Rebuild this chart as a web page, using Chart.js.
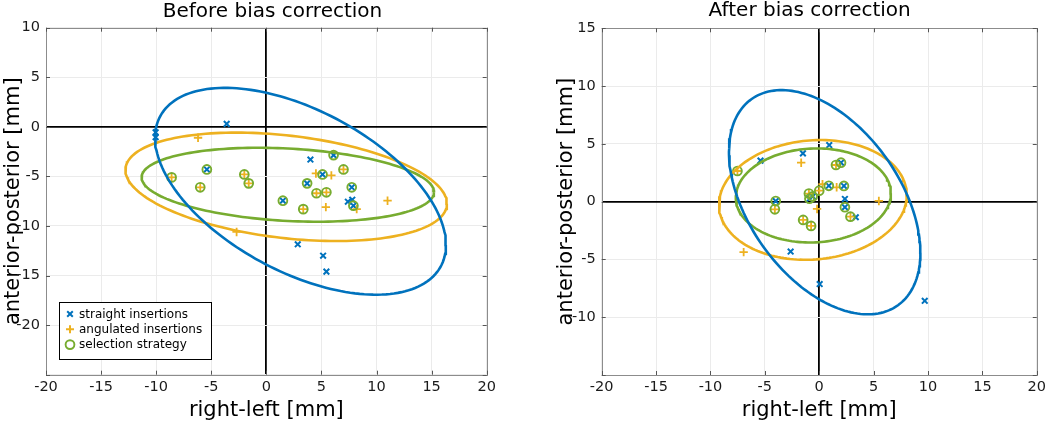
<!DOCTYPE html>
<html>
<head>
<meta charset="utf-8">
<script src="https://cdn.jsdelivr.net/npm/chart.js@4/dist/chart.umd.min.js"></script>
<style>
  html, body { margin: 0; padding: 0; background: #fff; }
  #wrap { position: relative; width: 1050px; height: 423px; overflow: hidden; }
  canvas { position: absolute; top: 0; }
</style>
</head>
<body>
<div id="wrap">
  <canvas id="left" width="525" height="423" style="left:0px"></canvas>
  <canvas id="right" width="525" height="423" style="left:525px"></canvas>
</div>
<script>
// ---------------- data ----------------
const xTickLabels = [-20, -15, -10, -5, 0, 5, 10, 15, 20];
const beforeYTickLabels = [10, 5, 0, -5, -10, -15, -20];
const afterYTickLabels = [15, 10, 5, 0, -5, -10];

const titles = ["Before bias correction", "After bias correction"];
const xAxisTitle = "right-left [mm]";
const yAxisTitle = "anterior-posterior [mm]";
const seriesNames = ["straight insertions", "angulated insertions", "selection strategy"];

// Before bias correction
const beforeStraightX = [-3.6, -10.05, -10.05, 4.0, 6.1, 5.1, 3.7, 7.75, 1.5, 7.4, 7.8, 7.9, -5.4, 2.85, 5.15, 5.45];
const beforeStraightY = [0.3, -0.55, -1.05, -3.3, -2.85, -4.8, -5.7, -6.1, -7.45, -7.55, -7.35, -7.95, -4.3, -11.85, -13.0, -14.6];
const beforeAngulatedX = [-6.2, -8.6, -6.0, -2.0, -1.6, 4.5, 5.9, 7.0, 4.55, 5.45, 3.35, 5.4, 8.2, 11.0, -2.7];
const beforeAngulatedY = [-1.1, -5.1, -6.1, -4.8, -5.7, -4.7, -4.9, -4.3, -6.7, -6.6, -8.3, -8.1, -8.3, -7.45, -10.6];
const beforeSelectionX = [-8.6, -5.4, -6.0, -2.0, -1.6, 6.1, 5.1, 7.0, 3.7, 7.75, 4.55, 5.45, 1.5, 3.35, 7.9];
const beforeSelectionY = [-5.1, -4.3, -6.1, -4.8, -5.7, -2.85, -4.8, -4.3, -5.7, -6.1, -6.7, -6.6, -7.45, -8.3, -7.95];

// After bias correction
const afterStraightX = [-5.4, -1.5, 0.92, 2.0, -4.0, -0.6, -0.9, 0.88, 2.27, 2.36, 2.36, 3.36, -2.63, 0.04, 9.7];
const afterStraightY = [3.55, 4.18, 4.9, 3.37, 0.05, 0.45, 0.25, 1.37, 1.36, 0.23, -0.48, -1.35, -4.32, -7.13, -8.58];
const afterAngulatedX = [-7.52, -1.66, 1.54, -4.08, -0.95, 0.0, 0.3, 1.6, -0.2, -1.48, -0.75, 5.48, 2.87, -6.95];
const afterAngulatedY = [2.65, 3.37, 3.17, -0.66, 0.7, 0.95, 1.52, 1.24, -0.63, -1.58, -2.1, 0.06, -1.3, -4.37];
const afterSelectionX = [-7.52, 1.54, 2.0, -4.0, -4.08, -0.95, -0.6, -0.9, 0.0, 0.88, 2.27, 2.36, 2.87, -1.48, -0.75];
const afterSelectionY = [2.65, 3.17, 3.37, 0.05, -0.66, 0.7, 0.45, 0.25, 0.95, 1.37, 1.36, -0.48, -1.3, -1.58, -2.1];

// ellipse parameters: [centerX, centerY, halfWidthX, halfHeightY, correlation]
const beforeEllipseStraight = [3.1, -6.5, 13.2, 10.43, -0.519];
const beforeEllipseAngulated = [1.8, -6.05, 14.59, 5.47, -0.31];
const beforeEllipseSelection = [1.95, -5.84, 13.27, 3.73, -0.2];
const afterEllipseStraight = [0.5, -0.05, 8.8, 9.7, -0.45];
const afterEllipseAngulated = [-0.585, 0.15, 8.63, 5.18, 0.08];
const afterEllipseSelection = [-0.54, 0.535, 7.13, 4.07, 0.045];

// ---------------- helpers ----------------
const BLUE = '#0072BD', ORANGE = '#EDB120', GREEN = '#77AC30';
const FONT = "'DejaVu Sans', Verdana, sans-serif";

function pts(xs, ys) { return xs.map((x, i) => ({ x: x, y: ys[i] })); }
function ellipse(p) {
  const [cx, cy, rx, ry, rho] = p;
  const phi = Math.acos(rho);
  const out = [];
  const n = 180;
  for (let i = 0; i <= n; i++) {
    const t = (i / n) * 2 * Math.PI;
    out.push({ x: cx + rx * Math.cos(t), y: cy + ry * Math.cos(t - phi) });
  }
  return out;
}

function makeDatasets(sx, sy, ax, ay, gx, gy, eS, eA, eG) {
  const line = (data, color) => ({
    type: 'scatter', data: data, showLine: true, borderColor: color, borderWidth: 2.6,
    pointRadius: 0, pointHoverRadius: 0, fill: false, tension: 0
  });
  return [
    line(ellipse(eS), BLUE),
    line(ellipse(eA), ORANGE),
    line(ellipse(eG), GREEN),
    { label: seriesNames[2], data: pts(gx, gy), pointStyle: 'circle', pointRadius: 4.4,
      borderColor: GREEN, backgroundColor: 'rgba(0,0,0,0)', pointBorderWidth: 1.9, showLine: false },
    { label: seriesNames[1], data: pts(ax, ay), pointStyle: 'cross', pointRadius: 4.2,
      borderColor: ORANGE, backgroundColor: ORANGE, pointBorderWidth: 1.8, showLine: false },
    { label: seriesNames[0], data: pts(sx, sy), pointStyle: 'crossRot', pointRadius: 4.0,
      borderColor: BLUE, backgroundColor: BLUE, pointBorderWidth: 2, showLine: false }
  ];
}

// frame + inward tick marks + optional legend + panel title
const framePlugin = {
  id: 'frame',
  afterDraw(chart, args, opts) {
    const ctx = chart.ctx;
    const a = chart.chartArea;
    const xs = chart.scales.x, ys = chart.scales.y;
    ctx.save();
    ctx.strokeStyle = '#8c8c8c';
    ctx.lineWidth = 1;
    ctx.strokeRect(Math.round(a.left) + 0.5, Math.round(a.top) + 0.5,
                   Math.round(a.right - a.left), Math.round(a.bottom - a.top));
    ctx.strokeStyle = '#555';
    ctx.beginPath();
    const tl = 4;
    xs.ticks.forEach(t => {
      const px = Math.round(xs.getPixelForValue(t.value)) + 0.5;
      ctx.moveTo(px, a.bottom); ctx.lineTo(px, a.bottom - tl);
      ctx.moveTo(px, a.top); ctx.lineTo(px, a.top + tl);
    });
    ys.ticks.forEach(t => {
      const py = Math.round(ys.getPixelForValue(t.value)) + 0.5;
      ctx.moveTo(a.left, py); ctx.lineTo(a.left + tl, py);
      ctx.moveTo(a.right, py); ctx.lineTo(a.right - tl, py);
    });
    ctx.stroke();

    ctx.fillStyle = '#000';
    ctx.font = "20px " + FONT;
    ctx.textAlign = 'center';
    ctx.textBaseline = 'alphabetic';
    ctx.fillText(opts.title, opts.titleX, opts.titleY);

    if (opts.legend) {
      const L = opts.legend;
      ctx.fillStyle = '#fff';
      ctx.fillRect(L.x, L.y, L.w, L.h);
      ctx.strokeStyle = '#000';
      ctx.lineWidth = 1;
      ctx.strokeRect(L.x + 0.5, L.y + 0.5, L.w, L.h);
      ctx.font = "12px " + FONT;
      ctx.textAlign = 'left';
      ctx.textBaseline = 'middle';
      seriesNames.forEach((name, i) => {
        const cy = L.y + L.first + i * L.step;
        const cx = L.x + L.mark;
        ctx.lineWidth = 2;
        if (i === 0) {
          ctx.strokeStyle = BLUE;
          ctx.beginPath();
          ctx.moveTo(cx - 2.8, cy - 2.8); ctx.lineTo(cx + 2.8, cy + 2.8);
          ctx.moveTo(cx + 2.8, cy - 2.8); ctx.lineTo(cx - 2.8, cy + 2.8);
          ctx.stroke();
        } else if (i === 1) {
          ctx.strokeStyle = ORANGE;
          ctx.beginPath();
          ctx.moveTo(cx - 4, cy); ctx.lineTo(cx + 4, cy);
          ctx.moveTo(cx, cy - 4); ctx.lineTo(cx, cy + 4);
          ctx.stroke();
        } else {
          ctx.strokeStyle = GREEN;
          ctx.lineWidth = 1.9;
          ctx.beginPath();
          ctx.arc(cx, cy, 4.4, 0, Math.PI * 2);
          ctx.stroke();
        }
        ctx.fillStyle = '#000';
        ctx.fillText(name, L.x + L.text, cy + 0.5);
      });
    }
    ctx.restore();
  }
};

function makeChart(id, datasets, yMin, yMax, yLabels, area, frameOpts, yTitlePad) {
  const W = 525, H = 423;
  return new Chart(document.getElementById(id), {
    type: 'scatter',
    data: { datasets: datasets },
    plugins: [framePlugin],
    options: {
      responsive: false,
      animation: false,
      events: [],
      layout: { padding: { left: 0, top: area.top, right: W - area.right, bottom: 0 } },
      plugins: {
        legend: { display: false },
        tooltip: { enabled: false },
        title: { display: false },
        frame: frameOpts
      },
      scales: {
        x: {
          type: 'linear', min: -20, max: 20,
          afterFit: s => { s.height = H - area.bottom; },
          afterBuildTicks: s => { s.ticks = xTickLabels.map(v => ({ value: v })); },
          ticks: {
            autoSkip: false, maxRotation: 0, padding: 4,
            color: '#1a1a1a', font: { family: FONT, size: 14.5 },
            callback: v => String(v)
          },
          grid: {
            drawTicks: false,
            color: c => (c.tick && c.tick.value === 0) ? '#000' : '#ebebeb',
            lineWidth: c => (c.tick && c.tick.value === 0) ? 1.8 : 1
          },
          border: { display: false },
          title: {
            display: true, text: xAxisTitle, color: '#000',
            font: { family: FONT, size: 21 }, padding: { top: 0, bottom: 0 }
          }
        },
        y: {
          type: 'linear', min: yMin, max: yMax,
          afterFit: s => { s.width = area.left; },
          afterBuildTicks: s => {
            const t = [];
            for (let v = yMin; v <= yMax; v += 5) t.push({ value: v });
            s.ticks = t;
          },
          ticks: {
            autoSkip: false, padding: 6,
            color: '#1a1a1a', font: { family: FONT, size: 14.5 },
            callback: v => yLabels.includes(v) ? String(v) : ''
          },
          grid: {
            drawTicks: false,
            color: c => (c.tick && c.tick.value === 0) ? '#000' : '#ebebeb',
            lineWidth: c => (c.tick && c.tick.value === 0) ? 1.8 : 1
          },
          border: { display: false },
          title: {
            display: true, text: yAxisTitle, color: '#000',
            font: { family: FONT, size: 21 }, padding: { top: yTitlePad, bottom: 0 }
          }
        }
      }
    }
  });
}

makeChart('left',
  makeDatasets(beforeStraightX, beforeStraightY, beforeAngulatedX, beforeAngulatedY,
               beforeSelectionX, beforeSelectionY,
               beforeEllipseStraight, beforeEllipseAngulated, beforeEllipseSelection),
  -25, 10, beforeYTickLabels,
  { left: 46, right: 486.7, top: 27.7, bottom: 374.7 },
  { title: titles[0], titleX: 272.5, titleY: 17,
    legend: { x: 59, y: 302, w: 152, h: 57, first: 12, step: 15.3, mark: 11, text: 20 } },
  1.4);

makeChart('right',
  makeDatasets(afterStraightX, afterStraightY, afterAngulatedX, afterAngulatedY,
               afterSelectionX, afterSelectionY,
               afterEllipseStraight, afterEllipseAngulated, afterEllipseSelection),
  -15, 15, afterYTickLabels,
  { left: 76.7, right: 517.7, top: 28.3, bottom: 375 },
  { title: titles[1], titleX: 284.7, titleY: 16, legend: null },
  29.4);
</script>
</body>
</html>
